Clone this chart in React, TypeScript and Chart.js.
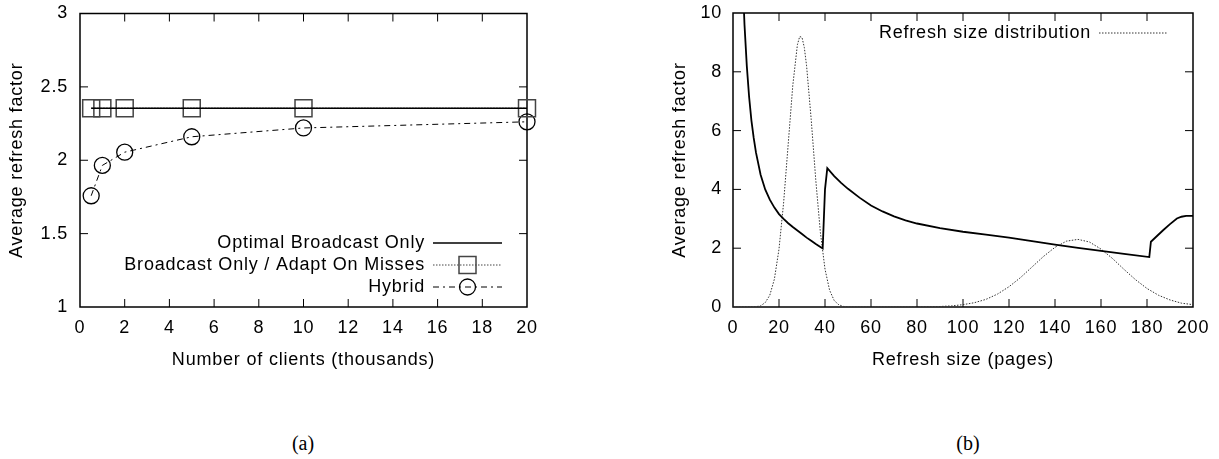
import React, { useEffect, useRef } from "react";
import { Chart, registerables } from "chart.js";

Chart.register(...registerables);

// ---------- (a) data ----------
const clients = [0.5, 1, 2, 5, 10, 20];
const optimalBroadcast = [2.355, 2.355, 2.355, 2.355, 2.355, 2.355];
const broadcastAdapt = [2.355, 2.355, 2.355, 2.355, 2.355, 2.355];
const hybrid = [1.758, 1.965, 2.055, 2.16, 2.22, 2.262];
const leftXTicks = [0, 2, 4, 6, 8, 10, 12, 14, 16, 18, 20];
const leftYTicks = [1, 1.5, 2, 2.5, 3];

// ---------- (b) data ----------
const refreshSize = [
  4, 5, 6, 7, 8, 9, 10, 12, 14, 16, 18, 20, 22, 24, 26, 28, 30, 32, 34, 36, 38, 39,
  40, 41, 44, 47, 50, 55, 60, 65, 70, 75, 80, 90, 100, 110, 120, 130, 140, 150, 160,
  170, 181, 181.7, 184, 187, 190, 193, 195, 197, 200,
];
const refreshFactor = [
  11.6, 9.6, 8.2, 7.15, 6.35, 5.75, 5.25, 4.5, 4.0, 3.65, 3.38, 3.16, 3.0, 2.85, 2.72,
  2.6, 2.48, 2.36, 2.25, 2.14, 2.04, 1.99, 4.0, 4.72, 4.45, 4.22, 4.02, 3.72, 3.45,
  3.25, 3.08, 2.95, 2.84, 2.68, 2.56, 2.46, 2.36, 2.24, 2.12, 2.01, 1.91, 1.81, 1.7,
  2.22, 2.39, 2.61, 2.82, 3.01, 3.07, 3.1, 3.1,
];
const distSize = [
  0, 10, 12, 14, 16, 18, 20, 22, 24, 26, 28, 29, 30, 31, 32, 34, 36, 38, 40, 42, 44,
  46, 48, 50, 60, 80, 90, 95, 100, 105, 110, 115, 120, 125, 130, 135, 140, 145, 150,
  155, 160, 165, 170, 175, 180, 185, 190, 195, 200,
];
const distValue = [
  0, 0.01, 0.04, 0.15, 0.4, 0.95, 1.97, 3.54, 5.54, 7.54, 8.92, 9.2, 9.17, 8.83, 8.2,
  6.38, 4.31, 2.53, 1.29, 0.57, 0.22, 0.075, 0.02, 0, 0, 0, 0.017, 0.037, 0.08, 0.147,
  0.26, 0.44, 0.69, 1.0, 1.36, 1.72, 2.03, 2.24, 2.3, 2.21, 1.97, 1.65, 1.28, 0.93,
  0.63, 0.4, 0.24, 0.13, 0.08,
];
const rightXTicks = [0, 20, 40, 60, 80, 100, 120, 140, 160, 180, 200];
const rightYTicks = [0, 2, 4, 6, 8, 10];

const FONT_FAMILY = "'Liberation Sans', Arial, Helvetica, sans-serif";
const FONT = { family: FONT_FAMILY, size: 18 };

const spacingPlugin = {
  id: "spacing",
  beforeDraw(chart: any) {
    (chart.ctx as any).letterSpacing = "0.8px";
  },
};

const framePlugin = {
  id: "frame",
  beforeDatasetsDraw(chart: any) {
    const { ctx, chartArea: a, scales } = chart;
    const xs = scales.x;
    const ys = scales.y;
    ctx.save();
    ctx.setLineDash([]);
    ctx.strokeStyle = "#000";
    ctx.lineWidth = 1;
    ctx.beginPath();
    xs.ticks.forEach((t: any) => {
      const p = xs.getPixelForValue(t.value);
      if (p <= a.left + 1 || p >= a.right - 1) return;
      ctx.moveTo(p, a.bottom);
      ctx.lineTo(p, a.bottom - 8);
      ctx.moveTo(p, a.top);
      ctx.lineTo(p, a.top + 8);
    });
    ys.ticks.forEach((t: any) => {
      const p = ys.getPixelForValue(t.value);
      if (p <= a.top + 1 || p >= a.bottom - 1) return;
      ctx.moveTo(a.left, p);
      ctx.lineTo(a.left + 8, p);
      ctx.moveTo(a.right, p);
      ctx.lineTo(a.right - 8, p);
    });
    ctx.stroke();
    ctx.lineWidth = 1.5;
    ctx.strokeRect(a.left, a.top, a.right - a.left, a.bottom - a.top);
    ctx.restore();
  },
};

type LegendItem = {
  label: string;
  color: string;
  width: number;
  dash: number[];
  marker?: "rect" | "circle";
  dy: number;
};

function makeLegendPlugin(items: LegendItem[], fromBottom: boolean) {
  return {
    id: "customLegend",
    afterDraw(chart: any) {
      const { ctx, chartArea: a } = chart;
      ctx.save();
      ctx.letterSpacing = "0.8px";
      ctx.font = `18px ${FONT_FAMILY}`;
      ctx.fillStyle = "#000";
      ctx.textAlign = "right";
      ctx.textBaseline = "middle";
      items.forEach((it) => {
        const y = fromBottom ? a.bottom - it.dy : a.top + it.dy;
        ctx.fillText(it.label, a.right - 102, y);
        const x0 = a.right - 94;
        const x1 = a.right - 25;
        ctx.strokeStyle = it.color;
        ctx.lineWidth = it.width;
        ctx.setLineDash(it.dash);
        ctx.beginPath();
        ctx.moveTo(x0, y);
        ctx.lineTo(x1, y);
        ctx.stroke();
        ctx.setLineDash([]);
        const cx = (x0 + x1) / 2;
        if (it.marker === "rect") {
          ctx.lineWidth = 1.5;
          ctx.strokeRect(cx - 8.5, y - 8.5, 17, 17);
        } else if (it.marker === "circle") {
          ctx.lineWidth = 1.3;
          ctx.beginPath();
          ctx.arc(cx, y, 8, 0, Math.PI * 2);
          ctx.stroke();
        }
      });
      ctx.restore();
    },
  };
}

function axisX(min: number, max: number, ticks: number[], title: string) {
  return {
    type: "linear" as const,
    min,
    max,
    grid: { display: false, drawTicks: false },
    border: { display: false },
    afterBuildTicks: (s: any) => {
      s.ticks = ticks.map((v) => ({ value: v }));
    },
    afterFit: (s: any) => {
      s.height = 80;
      s.paddingLeft = 0;
      s.paddingRight = 0;
    },
    ticks: { padding: 10, font: FONT, color: "#000", callback: (v: any) => String(v) },
    title: { display: true, text: title, font: FONT, color: "#000", padding: { top: 0, bottom: 16 } },
  };
}

function axisY(min: number, max: number, ticks: number[], width: number, pad: number) {
  return {
    type: "linear" as const,
    min,
    max,
    grid: { display: false, drawTicks: false },
    border: { display: false },
    afterBuildTicks: (s: any) => {
      s.ticks = ticks.map((v) => ({ value: v }));
    },
    afterFit: (s: any) => {
      s.width = width;
      s.paddingTop = 0;
      s.paddingBottom = 0;
    },
    ticks: { padding: pad, font: FONT, color: "#000", callback: (v: any) => String(v) },
    title: {
      display: true,
      text: "Average refresh factor",
      font: FONT,
      color: "#000",
      padding: { top: 6, bottom: 0 },
    },
  };
}

export default function App() {
  const leftRef = useRef<HTMLCanvasElement | null>(null);
  const rightRef = useRef<HTMLCanvasElement | null>(null);

  useEffect(() => {
    const left = new Chart(leftRef.current as HTMLCanvasElement, {
      type: "line",
      data: {
        datasets: [
          {
            label: "Optimal Broadcast Only",
            data: clients.map((x, i) => ({ x, y: optimalBroadcast[i] })),
            borderColor: "#000",
            borderWidth: 1.5,
            pointRadius: 0,
            clip: false as any,
          },
          {
            label: "Broadcast Only / Adapt On Misses",
            data: clients.map((x, i) => ({ x, y: broadcastAdapt[i] })),
            borderColor: "#444",
            borderWidth: 1,
            borderDash: [1.5, 1.5],
            pointStyle: "rect",
            pointRadius: 12,
            pointBorderColor: "#444",
            pointBorderWidth: 1.5,
            pointBackgroundColor: "rgba(0,0,0,0)",
            clip: false as any,
          },
          {
            label: "Hybrid",
            data: clients.map((x, i) => ({ x, y: hybrid[i] })),
            borderColor: "#000",
            borderWidth: 1,
            borderDash: [6, 4, 2, 4],
            pointStyle: "circle",
            pointRadius: 8,
            pointBorderColor: "#000",
            pointBorderWidth: 1.3,
            pointBackgroundColor: "rgba(0,0,0,0)",
            clip: false as any,
          },
        ],
      },
      options: {
        responsive: false,
        animation: false,
        devicePixelRatio: 1,
        layout: { padding: { left: 0, right: 73, top: 13, bottom: 13 } },
        plugins: { legend: { display: false }, tooltip: { enabled: false } },
        scales: {
          x: axisX(0, 20, leftXTicks, "Number of clients (thousands)"),
          y: axisY(1, 3, leftYTicks, 80, 12),
        } as any,
      },
      plugins: [
        spacingPlugin,
        framePlugin,
        makeLegendPlugin(
          [
            { label: "Optimal Broadcast Only", color: "#000", width: 1.5, dash: [], dy: 64 },
            {
              label: "Broadcast Only / Adapt On Misses",
              color: "#444",
              width: 1,
              dash: [1.5, 1.5],
              marker: "rect",
              dy: 42,
            },
            { label: "Hybrid", color: "#000", width: 1, dash: [6, 4, 2, 4], marker: "circle", dy: 20 },
          ],
          true
        ),
      ],
    });

    const right = new Chart(rightRef.current as HTMLCanvasElement, {
      type: "line",
      data: {
        datasets: [
          {
            label: "Average refresh factor",
            data: refreshSize.map((x, i) => ({ x, y: refreshFactor[i] })),
            borderColor: "#000",
            borderWidth: 1.8,
            pointRadius: 0,
          },
          {
            label: "Refresh size distribution",
            data: distSize.map((x, i) => ({ x, y: distValue[i] })),
            borderColor: "#333",
            borderWidth: 1,
            borderDash: [1.5, 1.5],
            pointRadius: 0,
          },
        ],
      },
      options: {
        responsive: false,
        animation: false,
        devicePixelRatio: 1,
        layout: { padding: { left: 63, right: 26, top: 13, bottom: 13 } },
        plugins: { legend: { display: false }, tooltip: { enabled: false } },
        scales: {
          x: axisX(0, 200, rightXTicks, "Refresh size (pages)"),
          y: axisY(0, 10, rightYTicks, 70, 11),
        } as any,
      },
      plugins: [
        spacingPlugin,
        framePlugin,
        makeLegendPlugin(
          [{ label: "Refresh size distribution", color: "#333", width: 1, dash: [1.5, 1.5], dy: 20 }],
          false
        ),
      ],
    });

    return () => {
      left.destroy();
      right.destroy();
    };
  }, []);

  const caption: React.CSSProperties = {
    position: "absolute",
    top: 443,
    transform: "translate(-50%, -50%)",
    fontFamily: "'Liberation Serif', 'DejaVu Serif', serif",
    fontSize: 20,
    color: "#000",
    whiteSpace: "nowrap",
  };

  return (
    <div style={{ position: "absolute", left: 0, top: 0, width: 1219, height: 459, background: "#fff" }}>
      <canvas ref={leftRef} width={600} height={400} style={{ position: "absolute", left: 0, top: 0 }} />
      <canvas ref={rightRef} width={619} height={400} style={{ position: "absolute", left: 600, top: 0 }} />
      <div style={{ ...caption, left: 303 }}>(a)</div>
      <div style={{ ...caption, left: 968 }}>(b)</div>
    </div>
  );
}
